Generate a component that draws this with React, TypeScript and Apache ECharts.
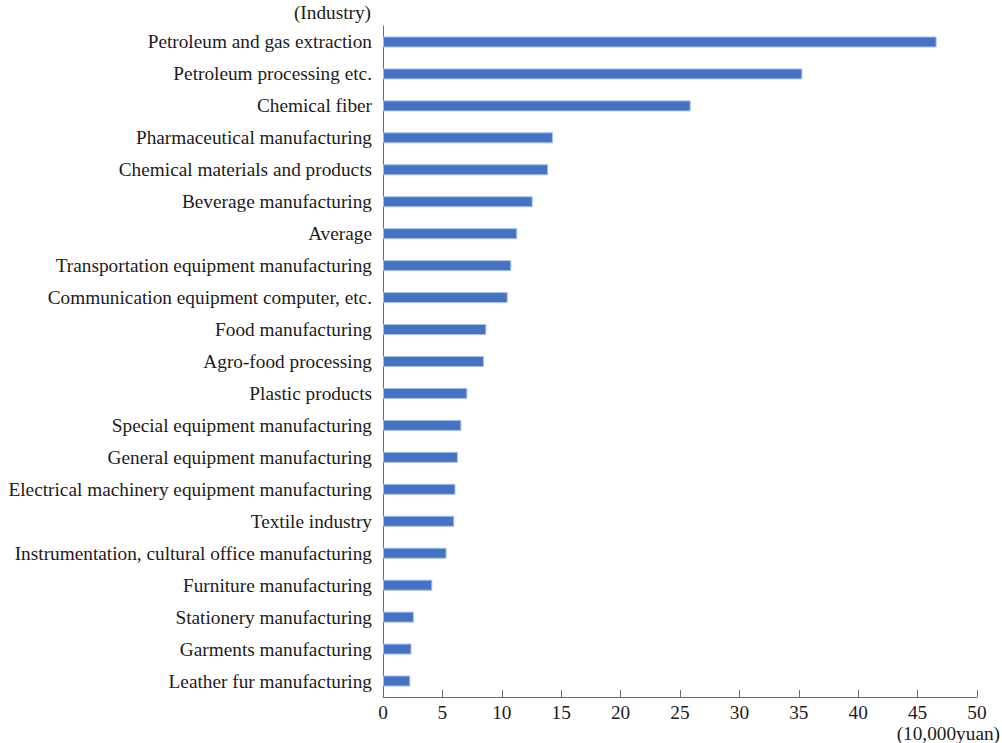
import React, { useEffect, useRef } from "react";
import * as echarts from "echarts";

const categories = [
  "Petroleum and gas extraction",
  "Petroleum processing etc.",
  "Chemical fiber",
  "Pharmaceutical manufacturing",
  "Chemical materials and products",
  "Beverage manufacturing",
  "Average",
  "Transportation equipment manufacturing",
  "Communication equipment computer, etc.",
  "Food manufacturing",
  "Agro-food processing",
  "Plastic products",
  "Special equipment manufacturing",
  "General equipment manufacturing",
  "Electrical machinery equipment manufacturing",
  "Textile industry",
  "Instrumentation, cultural office manufacturing",
  "Furniture manufacturing",
  "Stationery manufacturing",
  "Garments manufacturing",
  "Leather fur manufacturing",
];

const values = [
  46.6, 35.3, 25.9, 14.3, 13.9, 12.6, 11.3, 10.8, 10.5, 8.7, 8.5, 7.1, 6.6, 6.3,
  6.1, 6.0, 5.35, 4.15, 2.6, 2.4, 2.3,
];

const xTicks = { min: 0, max: 50, interval: 5 };
const yAxisTitle = "(Industry)";
const xAxisTitle = "(10,000yuan)";

const FONT = "'Liberation Serif', 'Times New Roman', serif";
const FONT_SIZE = 19.3;
const TEXT_COLOR = "#1e1a1b";
const AXIS_COLOR = "#6b6b6b";

export default function App() {
  const ref = useRef<HTMLDivElement>(null);

  useEffect(() => {
    document.body.style.margin = "0";
    if (!ref.current) return;
    const chart = echarts.init(ref.current, undefined, { renderer: "svg" });
    chart.setOption({
      animation: false,
      backgroundColor: "#ffffff",
      grid: { left: 383, right: 25, top: 26, bottom: 46, containLabel: false },
      xAxis: {
        type: "value",
        min: xTicks.min,
        max: xTicks.max,
        interval: xTicks.interval,
        axisLine: { show: true, lineStyle: { color: AXIS_COLOR, width: 1 } },
        axisTick: { show: true, inside: true, length: 7, lineStyle: { color: AXIS_COLOR } },
        splitLine: { show: false },
        axisLabel: {
          fontFamily: FONT,
          fontSize: FONT_SIZE,
          color: TEXT_COLOR,
          margin: 6,
        },
      },
      yAxis: {
        type: "category",
        data: categories,
        inverse: true,
        axisLine: { show: true, lineStyle: { color: AXIS_COLOR, width: 1 } },
        axisTick: { show: false },
        splitLine: { show: false },
        axisLabel: {
          fontFamily: FONT,
          fontSize: FONT_SIZE,
          color: TEXT_COLOR,
          margin: 11,
        },
      },
      series: [
        {
          type: "bar",
          data: values,
          barWidth: 11,
          itemStyle: {
            color: "#4472c4",
            borderColor: "#a9bfe6",
            borderWidth: 1,
          },
        },
      ],
      graphic: [
        {
          type: "text",
          right: 1002 - 371,
          top: 3,
          style: {
            text: yAxisTitle,
            font: `${FONT_SIZE}px ${FONT}`,
            fill: TEXT_COLOR,
          },
        },
        {
          type: "text",
          right: 2,
          top: 724,
          style: {
            text: xAxisTitle,
            font: `${FONT_SIZE}px ${FONT}`,
            fill: TEXT_COLOR,
          },
        },
      ],
    });
    return () => chart.dispose();
  }, []);

  return <div ref={ref} style={{ width: 1002, height: 743 }} />;
}
